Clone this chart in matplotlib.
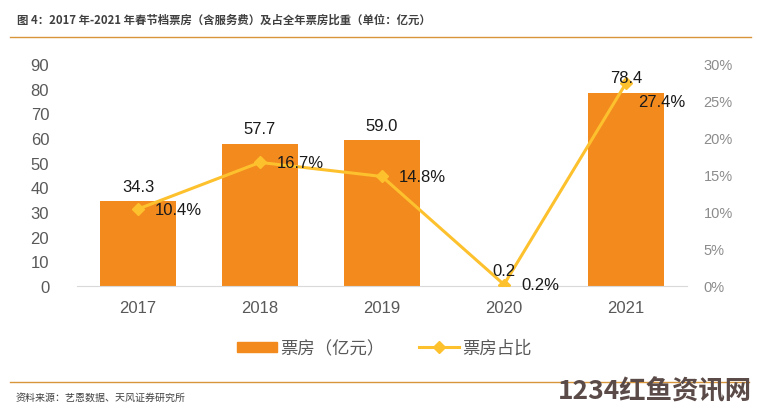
import matplotlib.pyplot as plt
from matplotlib.lines import Line2D
from matplotlib.patches import Patch
import numpy as np

plt.rcParams['font.family'] = ['Liberation Sans', 'Noto Sans CJK SC', 'DejaVu Sans']

years = ['2017', '2018', '2019', '2020', '2021']
box_office = [34.3, 57.7, 59.0, 0.2, 78.4]
share = [10.4, 16.7, 14.8, 0.2, 27.4]

bar_color = '#F28A1E'
line_color = '#FDC12E'
cjk = ['Noto Sans CJK SC', 'DejaVu Sans']

fig = plt.figure(figsize=(7.57, 4.10), dpi=100)
ax = fig.add_axes([0.1017, 0.30, 0.8058, 0.5415])
x = np.arange(len(years))

ax.bar(x, box_office, width=0.62, color=bar_color, zorder=2)
ax.set_ylim(0, 90)
ax.set_xlim(-0.5, len(years) - 0.5)
ax.set_yticks(range(0, 91, 10))
ax.set_xticks(x)
ax.set_xticklabels(years)
ax.tick_params(axis='y', length=0, labelsize=12, colors='#595959', pad=20)
ax.tick_params(axis='x', length=0, labelsize=12, colors='#595959', pad=10)
for s in ['top', 'right', 'left']:
    ax.spines[s].set_visible(False)
ax.spines['bottom'].set_color('#D9D9D9')

ax2 = ax.twinx()
ax2.plot(x, share, color=line_color, lw=2.2, marker='D', markersize=6, zorder=3)
ax2.set_ylim(0, 30)
ax2.set_yticks(range(0, 31, 5))
ax2.set_yticklabels([f'{t}%' for t in range(0, 31, 5)])
ax2.tick_params(axis='y', length=0, labelsize=10.5, colors='#8C8C8C', pad=12)
for s in ax2.spines.values():
    s.set_visible(False)

# bar value labels drawn on top of the line
for xi, v in zip(x, box_office):
    ax2.text(xi, v + 3, f'{v:.1f}', ha='center', va='bottom', fontsize=12, color='#1A1A1A',
             transform=ax.transData, zorder=5)

for xi, v in zip(x, share):
    dx, dy = (0.1, -2.5) if xi == 4 else (0.14, 0)
    ax2.text(xi + dx, v + dy, f'{v:.1f}%', ha='left', va='center', fontsize=12, color='#1A1A1A',
             zorder=5)

handles = [Patch(color=bar_color), Line2D([], [], color=line_color, lw=2.2, marker='D', markersize=6)]
leg = fig.legend(handles, ['票房（亿元）', '票房占比'], loc='center', bbox_to_anchor=(0.508, 0.149),
                 ncol=2, frameon=False, handlelength=2.3, handleheight=0.5, handletextpad=0.2,
                 columnspacing=2.0, prop={'family': cjk, 'size': 12.5})
for t in leg.get_texts():
    t.set_color('#595959')

fig.text(0.022, 0.95, '图 4：2017 年-2021 年春节档票房（含服务费）及占全年票房比重（单位：亿元）',
         fontsize=8.2, fontweight='bold', color='#404040', family=cjk, va='center')
fig.add_artist(Line2D([0.013, 0.992], [0.908, 0.908], color='#D9953A', lw=1))
fig.add_artist(Line2D([0.013, 0.99], [0.066, 0.066], color='#D9953A', lw=1))
fig.text(0.02, 0.03, '资料来源：艺恩数据、天风证券研究所', fontsize=7.2, color='#404040',
         family=cjk, va='center')
fig.text(0.993, 0.045, '1234红鱼资讯网', fontsize=19, fontweight='bold', color='#5A4A48',
         family=cjk, ha='right', va='center')

fig.savefig('out.png', dpi=100)
